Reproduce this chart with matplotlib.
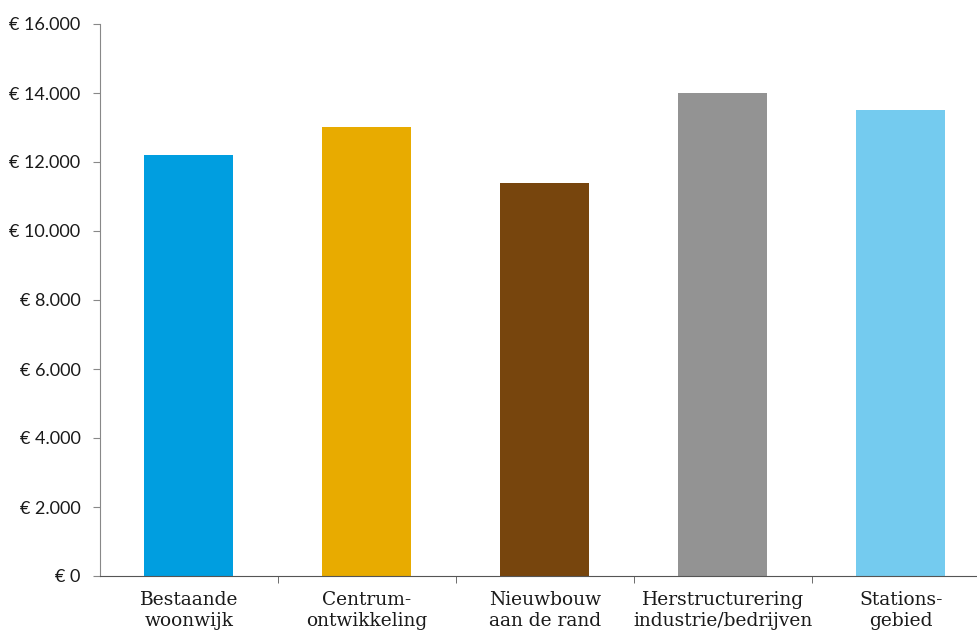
import matplotlib.pyplot as plt
from matplotlib.ticker import FuncFormatter

categories = ["Bestaande\nwoonwijk", "Centrum-\nontwikkeling", "Nieuwbouw\naan de rand",
              "Herstructurering\nindustrie/bedrijven", "Stations-\ngebied"]
values = [12200, 13000, 11400, 14000, 13500]
colors = ["#009ee0", "#e8ab00", "#77450d", "#939393", "#74cbef"]

fig = plt.figure(figsize=(9.78, 6.32), dpi=100)
ax = fig.add_axes([100 / 978, 56 / 632, 890 / 978, 552 / 632])

x = list(range(len(categories)))
ax.bar(x, values, width=0.5, color=colors)

ax.set_xlim(-0.5, len(categories) - 0.5)
ax.set_ylim(0, 16000)
ax.set_yticks(range(0, 16001, 2000))
ax.yaxis.set_major_formatter(FuncFormatter(lambda v, p: "€ " + f"{int(v):,}".replace(",", ".")))
for lab in ax.get_yticklabels():
    lab.set_fontfamily("Lato")
    lab.set_fontsize(13)
ax.tick_params(axis="y", length=5, color="#888888", pad=9, labelcolor="#1a1a1a")

ax.set_xticks(x)
ax.set_xticklabels(categories, fontfamily="DejaVu Serif", fontsize=13.4, color="#1a1a1a", linespacing=1.22)
ax.tick_params(axis="x", which="major", length=0, pad=11)
ax.set_xticks([i + 0.5 for i in x], minor=True)
ax.tick_params(axis="x", which="minor", length=5, color="#555555")

for s in ["top", "right"]:
    ax.spines[s].set_visible(False)
ax.spines["left"].set_color("#888888")
ax.spines["bottom"].set_color("#555555")

fig.savefig("out.png", dpi=100)
